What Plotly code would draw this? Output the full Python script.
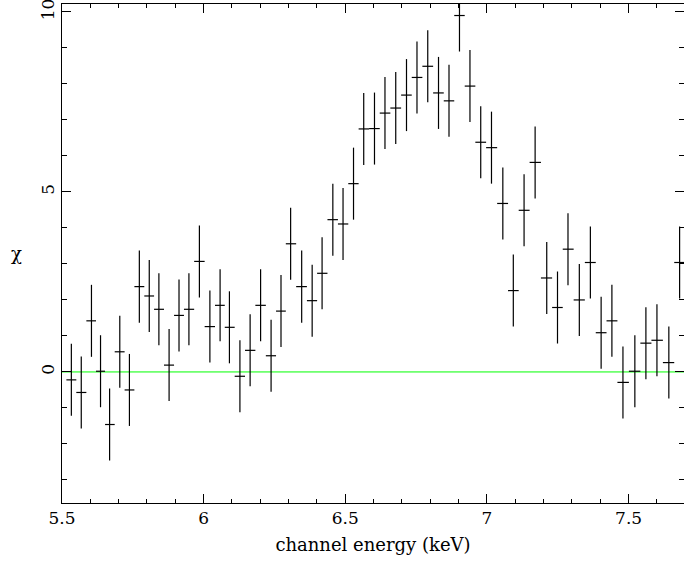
import plotly.graph_objects as go

# channel energies (keV) and residuals
energy = [5.533, 5.568, 5.604, 5.636, 5.668, 5.704, 5.738, 5.773, 5.808, 5.842,
          5.878, 5.913, 5.948, 5.985, 6.022, 6.058, 6.091, 6.128, 6.164, 6.201,
          6.238, 6.273, 6.307, 6.346, 6.383, 6.418, 6.456, 6.492, 6.529, 6.565,
          6.603, 6.640, 6.678, 6.716, 6.753, 6.791, 6.829, 6.866, 6.903, 6.940,
          6.978, 7.016, 7.056, 7.093, 7.131, 7.170, 7.211, 7.249, 7.286, 7.326,
          7.365, 7.403, 7.441, 7.480, 7.522, 7.561, 7.600, 7.642, 7.680]
chi = [-0.22, -0.57, 1.42, 0.02, -1.46, 0.56, -0.50, 2.37, 2.11, 1.74,
       0.19, 1.57, 1.74, 3.07, 1.26, 1.85, 1.24, -0.12, 0.60, 1.85,
       0.45, 1.69, 3.56, 2.37, 1.98, 2.74, 4.23, 4.11, 5.23, 6.75,
       6.76, 7.19, 7.33, 7.69, 8.18, 8.49, 7.75, 7.53, 9.90, 7.94,
       6.38, 6.23, 4.68, 2.26, 4.49, 5.82, 2.61, 1.79, 3.41, 2.00,
       3.04, 1.09, 1.42, -0.29, 0.02, 0.80, 0.88, 0.26, 3.04]
chi_err = [1.0] * len(chi)

# bin half widths from the spacing of the channels
half_lo, half_hi = [], []
for i, e in enumerate(energy):
    lo = (e - energy[i - 1]) / 2 if i > 0 else (energy[1] - energy[0]) / 2
    hi = (energy[i + 1] - e) / 2 if i < len(energy) - 1 else (e - energy[i - 1]) / 2
    half_lo.append(lo)
    half_hi.append(hi)

xmin, xmax = 5.5, 7.6955
ymin, ymax = -3.64, 10.22

fig = go.Figure()

fig.add_trace(go.Scatter(x=[xmin, xmax], y=[0, 0], mode="lines",
                         line=dict(color="#00ff00", width=1), hoverinfo="skip"))

fig.add_trace(go.Scatter(
    x=energy, y=chi, mode="markers",
    marker=dict(size=1, color="rgba(0,0,0,0)", line=dict(width=0)),
    error_y=dict(type="data", array=chi_err, color="black", thickness=1.2, width=0),
    error_x=dict(type="data", array=half_hi, arrayminus=half_lo, symmetric=False,
                 color="black", thickness=1.2, width=0),
))

axis_style = dict(showline=True, linecolor="black", linewidth=1, mirror="ticks",
                  ticks="inside", ticklen=9, tickcolor="black", tickwidth=1,
                  showgrid=False, zeroline=False, automargin=False,
                  ticklabeloverflow="allow",
                  tickfont=dict(family="DejaVu Serif", size=17, color="black"))

fig.update_xaxes(range=[xmin, xmax], tickvals=[5.5, 6, 6.5, 7, 7.5],
                 ticktext=["5.5", "6", "6.5", "7", "7.5"],
                 minor=dict(dtick=0.1, tick0=5.5, ticks="inside", ticklen=4,
                            tickcolor="black", showgrid=False),
                 title=dict(text="channel energy (keV)", standoff=10,
                            font=dict(family="DejaVu Serif", size=18, color="black")),
                 **axis_style)
fig.update_yaxes(range=[ymin, ymax], tickvals=[0, 5, 10], tickangle=-90,
                 minor=dict(dtick=1, tick0=0, ticks="inside", ticklen=5,
                            tickcolor="black", showgrid=False),
                 **axis_style)

fig.add_annotation(text="χ", x=-0.085, xref="paper", y=0.5, yref="paper",
                   showarrow=False, font=dict(family="DejaVu Serif", size=18, color="black"))

fig.update_layout(
    width=684, height=561,
    margin=dict(l=62, r=0, t=4, b=58),
    plot_bgcolor="white", paper_bgcolor="white",
    showlegend=False)

fig.write_html("out.html", config={"displayModeBar": False},
               post_script="document.body.style.margin='0';document.body.style.overflow='hidden';")
